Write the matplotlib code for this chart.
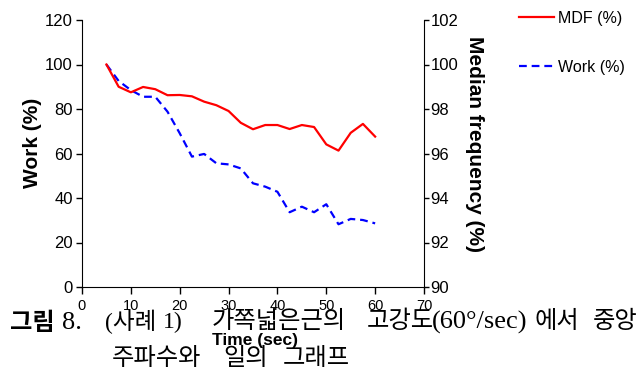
import matplotlib
matplotlib.use('Agg')
import matplotlib.pyplot as plt

plt.rcParams['font.family'] = ['Liberation Sans', 'DejaVu Sans']

# 시간(초)별 중앙 주파수(MDF)와 일(Work)
time_sec = [5, 7.5, 10, 12.5, 15, 17.5, 20, 22.5, 25, 27.5, 30, 32.5,
            35, 37.5, 40, 42.5, 45, 47.5, 50, 52.5, 55, 57.5, 60]
mdf = [100, 99.0, 98.75, 98.99, 98.89, 98.62, 98.63, 98.57, 98.33, 98.17, 97.91, 97.38,
       97.09, 97.28, 97.28, 97.10, 97.28, 97.19, 96.41, 96.13, 96.93, 97.33, 96.76]
work = [100, 92.6, 88.5, 85.5, 85.5, 78.8, 69.1, 58.6, 59.8, 55.6, 55.1, 53.3,
        46.6, 45.1, 42.8, 33.6, 36.1, 33.6, 37.2, 28.2, 30.6, 30.1, 28.6]

x_ticks = [0, 10, 20, 30, 40, 50, 60, 70]
work_ticks = [0, 20, 40, 60, 80, 100, 120]
mdf_ticks = [90, 92, 94, 96, 98, 100, 102]

W, H = 639, 371
fig = plt.figure(figsize=(W / 100, H / 100), dpi=100)
ax = fig.add_axes([82 / W, 84 / H, 342 / W, 267 / H])
ax2 = ax.twinx()

l_work, = ax.plot(time_sec, work, color='blue', lw=1.6, linestyle=(0, (3.5, 2.2)))
l_mdf, = ax2.plot(time_sec, mdf, color='red', lw=1.6)

ax.set_xlim(0, 70)
ax.set_ylim(0, 120)
ax2.set_ylim(90, 102)
ax.set_xticks(x_ticks)
ax.set_yticks(work_ticks)
ax2.set_yticks(mdf_ticks)

for s in ['top', 'right']:
    ax.spines[s].set_visible(False)
for s in ['top', 'left', 'bottom']:
    ax2.spines[s].set_visible(False)

ax.tick_params(axis='y', direction='out', length=4.5, width=1, pad=2, labelsize=12)
ax.tick_params(axis='x', direction='out', length=5, width=1, pad=4, labelsize=10.5)
ax2.tick_params(axis='y', direction='out', length=3.6, width=1, pad=1, labelsize=12)


def put(x, y, s, **kw):
    fig.text(x / W, 1 - y / H, s, va='center', **kw)


# 축 제목
put(32, 143, 'Work (%)', rotation=90, ha='center', fontsize=15, fontweight='bold')
put(474, 144, 'Median frequency (%)', rotation=270, ha='center', fontsize=15, fontweight='bold')
put(255, 341, 'Time (sec)', ha='center', fontsize=12.5, fontweight='bold')

fig.legend([l_mdf, l_work], ['MDF (%)', 'Work (%)'], loc='upper left',
           bbox_to_anchor=(519 / W, 1 - 11 / H), frameon=False, fontsize=11.5,
           borderpad=0, borderaxespad=0, labelspacing=2.1, handlelength=2.2,
           handletextpad=0.25)

# 그림 설명
kr = ['Liberation Serif', 'Noto Sans CJK KR']
put(10, 323, '그림', family='Noto Sans CJK KR', fontweight='bold', fontsize=17.5)
put(62, 323, '8.', family='Liberation Serif', fontsize=19)
put(105, 322, '(사례', family=kr, fontsize=17)
put(163, 322, '1)', family=kr, fontsize=17)
put(212, 322, '가쪽넓은근의', family=kr, fontsize=17.5)
put(367, 322, '고강도', family=kr, fontsize=17.5)
put(432, 322, '(60°/sec)', family='Liberation Serif', fontsize=19)
put(535, 322, '에서', family=kr, fontsize=17.5)
put(593, 322, '중앙', family=kr, fontsize=17.5)
put(112, 359, '주파수와', family=kr, fontsize=17.5)
put(223, 359, '일의', family=kr, fontsize=17.5)
put(283, 359, '그래프', family=kr, fontsize=17.5)

fig.savefig('out.png', dpi=100)
